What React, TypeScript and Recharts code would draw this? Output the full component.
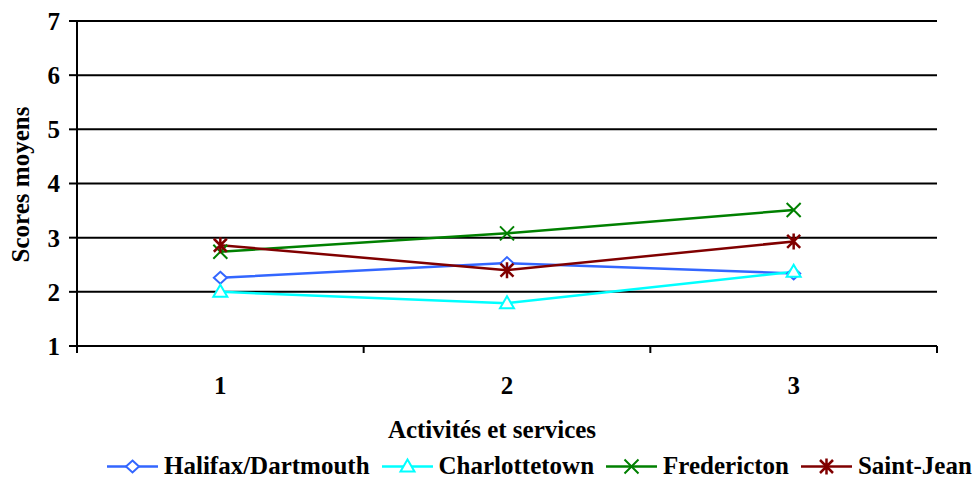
import React from 'react';
import { LineChart, Line, XAxis, YAxis, CartesianGrid, Legend } from 'recharts';

// Activity / service groups on the horizontal axis
const activities = [1, 2, 3];

// Mean scores per city
const halifax = [2.26, 2.53, 2.34];
const charlottetown = [2.0, 1.79, 2.37];
const fredericton = [2.74, 3.08, 3.51];
const saintJean = [2.86, 2.4, 2.93];

const yTicks = [1, 2, 3, 4, 5, 6, 7];
const xTicks = [0.5, 1, 1.5, 2, 2.5, 3, 3.5];

const FONT = '"Liberation Serif", "Times New Roman", serif';

const data = activities.map((a, i) => ({
  x: a,
  halifax: halifax[i],
  charlottetown: charlottetown[i],
  fredericton: fredericton[i],
  saintJean: saintJean[i],
}));

type MarkerKind = 'diamond' | 'triangle' | 'cross' | 'star';

const Marker = ({ kind, cx, cy, color }: { kind: MarkerKind; cx: number; cy: number; color: string }) => {
  if (kind === 'diamond') {
    return (
      <path
        d={`M${cx},${cy - 6} L${cx + 6.5},${cy} L${cx},${cy + 6} L${cx - 6.5},${cy} Z`}
        fill="#fff"
        stroke={color}
        strokeWidth={2}
      />
    );
  }
  if (kind === 'triangle') {
    return (
      <path
        d={`M${cx},${cy - 7} L${cx + 7},${cy + 5} L${cx - 7},${cy + 5} Z`}
        fill="#fff"
        stroke={color}
        strokeWidth={2}
      />
    );
  }
  if (kind === 'cross') {
    return (
      <path
        d={`M${cx - 7},${cy - 7} L${cx + 7},${cy + 7} M${cx - 7},${cy + 7} L${cx + 7},${cy - 7}`}
        stroke={color}
        strokeWidth={2}
        fill="none"
      />
    );
  }
  return (
    <path
      d={`M${cx - 6.5},${cy - 6.5} L${cx + 6.5},${cy + 6.5} M${cx - 6.5},${cy + 6.5} L${cx + 6.5},${cy - 6.5} M${cx},${cy - 8} L${cx},${cy + 8}`}
      stroke={color}
      strokeWidth={2.5}
      fill="none"
    />
  );
};

const series: { key: string; name: string; color: string; kind: MarkerKind }[] = [
  { key: 'halifax', name: 'Halifax/Dartmouth', color: '#3366FF', kind: 'diamond' },
  { key: 'charlottetown', name: 'Charlottetown', color: '#00FFFF', kind: 'triangle' },
  { key: 'fredericton', name: 'Fredericton', color: '#008000', kind: 'cross' },
  { key: 'saintJean', name: 'Saint-Jean', color: '#800000', kind: 'star' },
];

const XTick = (props: any) => {
  const { x, y, payload } = props;
  const v = payload.value;
  if (Number.isInteger(v)) {
    return (
      <text x={x} y={y + 48} textAnchor="middle" fontFamily={FONT} fontWeight="bold" fontSize={25} fill="#000">
        {v}
      </text>
    );
  }
  return <line x1={x} y1={y} x2={x} y2={y + 7} stroke="#000" strokeWidth={2} />;
};

const XTitle = (props: any) => {
  const vb = props.viewBox;
  return (
    <text
      x={vb.x + vb.width / 2 - 15}
      y={vb.y + 92}
      textAnchor="middle"
      fontFamily={FONT}
      fontWeight="bold"
      fontSize={25}
      fill="#000"
    >
      Activités et services
    </text>
  );
};

const YTitle = (props: any) => {
  const vb = props.viewBox;
  const cx = 28.5;
  const cy = vb.y + vb.height / 2 + 1;
  return (
    <text
      x={cx}
      y={cy}
      transform={`rotate(-90, ${cx}, ${cy})`}
      textAnchor="middle"
      fontFamily={FONT}
      fontWeight="bold"
      fontSize={25}
      fill="#000"
    >
      Scores moyens
    </text>
  );
};

const LegendContent = () => (
  <div style={{ display: 'flex', alignItems: 'flex-start', gap: 12, fontFamily: FONT, fontWeight: 'bold', fontSize: 25, lineHeight: '25px', color: '#000' }}>
    {series.map((s) => (
      <div key={s.key} style={{ display: 'flex', alignItems: 'flex-start' }}>
        <svg width={51} height={25} style={{ marginRight: 6, display: 'block' }}>
          <line x1={0} y1={13.5} x2={51} y2={13.5} stroke={s.color} strokeWidth={2.5} />
          <Marker kind={s.kind} cx={25.5} cy={13.5} color={s.color} />
        </svg>
        <span style={{ whiteSpace: 'nowrap' }}>{s.name}</span>
      </div>
    ))}
  </div>
);

export default function App() {
  return (
    <div style={{ position: 'absolute', left: 0, top: 0, width: 977, height: 478, background: '#fff' }}>
      <LineChart width={977} height={478} data={data} margin={{ top: 21, right: 40, left: 0, bottom: 0 }}>
        <CartesianGrid vertical={false} stroke="#000" strokeWidth={2} />
        <XAxis
          dataKey="x"
          type="number"
          domain={[0.5, 3.5]}
          ticks={xTicks}
          interval={0}
          tickLine={false}
          tickSize={0}
          tickMargin={0}
          tick={<XTick />}
          axisLine={{ stroke: '#000', strokeWidth: 2 }}
          height={132}
          label={{ content: <XTitle /> }}
        />
        <XAxis
          xAxisId="top"
          orientation="top"
          dataKey="x"
          type="number"
          domain={[0.5, 3.5]}
          height={0}
          tick={false}
          tickLine={false}
          axisLine={{ stroke: '#808080', strokeWidth: 2 }}
        />
        <YAxis
          domain={[1, 7]}
          ticks={yTicks}
          interval={0}
          width={77}
          tickSize={8}
          tickMargin={9}
          tick={{ fontFamily: FONT, fontWeight: 'bold', fontSize: 25, fill: '#000' }}
          tickLine={{ stroke: '#000', strokeWidth: 2 }}
          axisLine={{ stroke: '#000', strokeWidth: 2 }}
          label={{ content: <YTitle /> }}
        />
        <YAxis
          yAxisId="right"
          orientation="right"
          domain={[1, 7]}
          width={0}
          tick={false}
          tickLine={false}
          axisLine={{ stroke: '#808080', strokeWidth: 2 }}
        />
        {series.map((s) => (
          <Line
            key={s.key}
            dataKey={s.key}
            name={s.name}
            stroke={s.color}
            strokeWidth={2.5}
            isAnimationActive={false}
            dot={(p: any) => <Marker key={`${s.key}-${p.index}`} kind={s.kind} cx={p.cx} cy={p.cy} color={s.color} />}
            activeDot={false}
          />
        ))}
        <Legend
          layout="horizontal"
          verticalAlign="middle"
          align="center"
          content={<LegendContent />}
          wrapperStyle={{ top: 453, left: 107, width: 870, height: 25 }}
        />
      </LineChart>
    </div>
  );
}
